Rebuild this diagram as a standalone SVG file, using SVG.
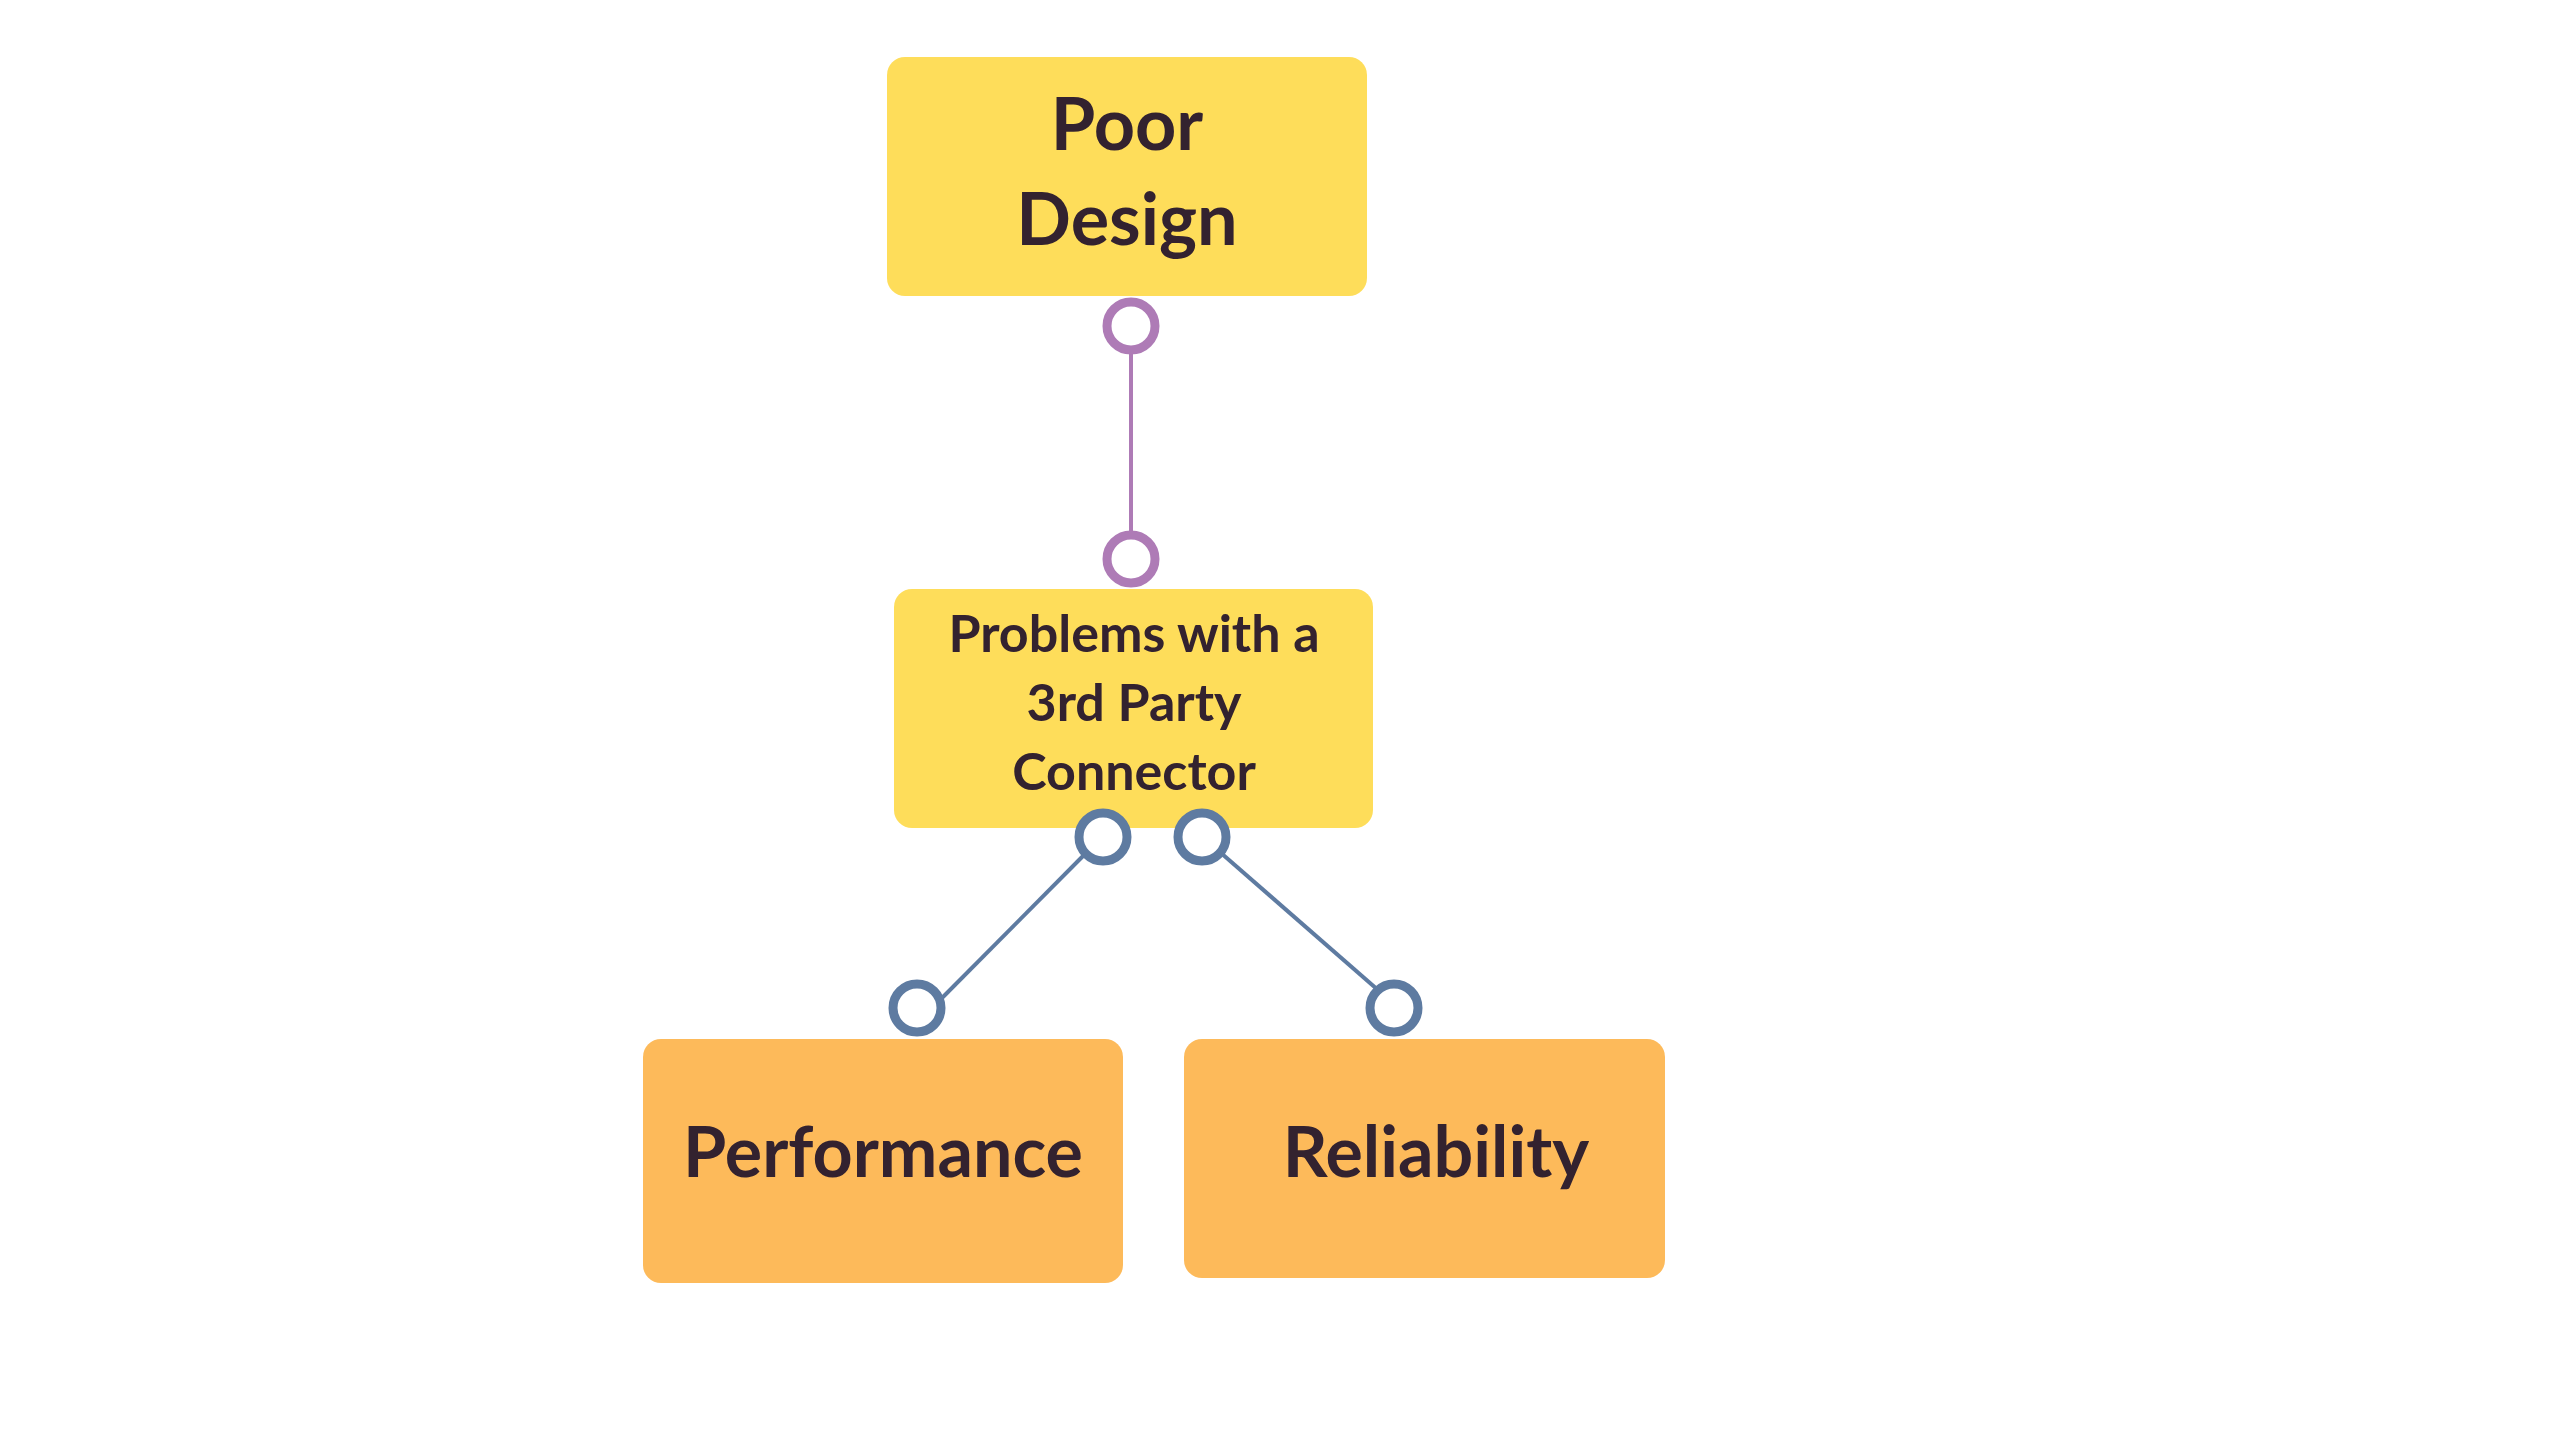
<svg xmlns="http://www.w3.org/2000/svg" width="2560" height="1440" viewBox="0 0 2560 1440">
<style>
.t{font-family:Lato,"Noto Sans","Liberation Sans",sans-serif;font-weight:700;fill:#33222f;text-anchor:middle}
.y{fill:#fedd5a}
.o{fill:#fdba5a}
.pc{fill:#fff;stroke:#ae7bb6;stroke-width:9}
.bc{fill:#fff;stroke:#5e7ba1;stroke-width:9}
.pl{stroke:#ae7bb6;stroke-width:4;fill:none}
.bl{stroke:#5e7ba1;stroke-width:4;fill:none}
</style>
<rect width="2560" height="1440" fill="#ffffff"/>
<g id="node-poor-design">
<rect class="y" x="887" y="57" width="480" height="239" rx="18"/>
<text class="t" x="1127" y="150" font-size="72">Poor</text>
<text class="t" x="1127" y="245" font-size="72">Design</text>
</g>
<g id="node-problems">
<rect class="y" x="894" y="589" width="479" height="239" rx="18"/>
<text class="t" x="1134" y="652" font-size="52">Problems with a</text>
<text class="t" x="1134" y="721" font-size="52">3rd Party</text>
<text class="t" x="1134" y="790" font-size="52">Connector</text>
</g>
<g id="node-performance">
<rect class="o" x="643" y="1039" width="480" height="244" rx="18"/>
<text class="t" x="883" y="1177" font-size="70">Performance</text>
</g>
<g id="node-reliability">
<rect class="o" x="1184" y="1039" width="481" height="239" rx="18"/>
<text class="t" x="1436" y="1177" font-size="70">Reliability</text>
</g>
<g id="connectors">
<line class="pl" x1="1131" y1="350" x2="1131" y2="535"/>
<circle class="pc" cx="1131" cy="326" r="24"/>
<circle class="pc" cx="1131" cy="559" r="24"/>
<line class="bl" x1="1084" y1="855" x2="942" y2="998"/>
<line class="bl" x1="1221" y1="853" x2="1378" y2="990"/>
<circle class="bc" cx="1103" cy="837" r="24"/>
<circle class="bc" cx="1202" cy="837" r="24"/>
<circle class="bc" cx="917" cy="1008" r="24"/>
<circle class="bc" cx="1394" cy="1008" r="24"/>
</g>
</svg>
